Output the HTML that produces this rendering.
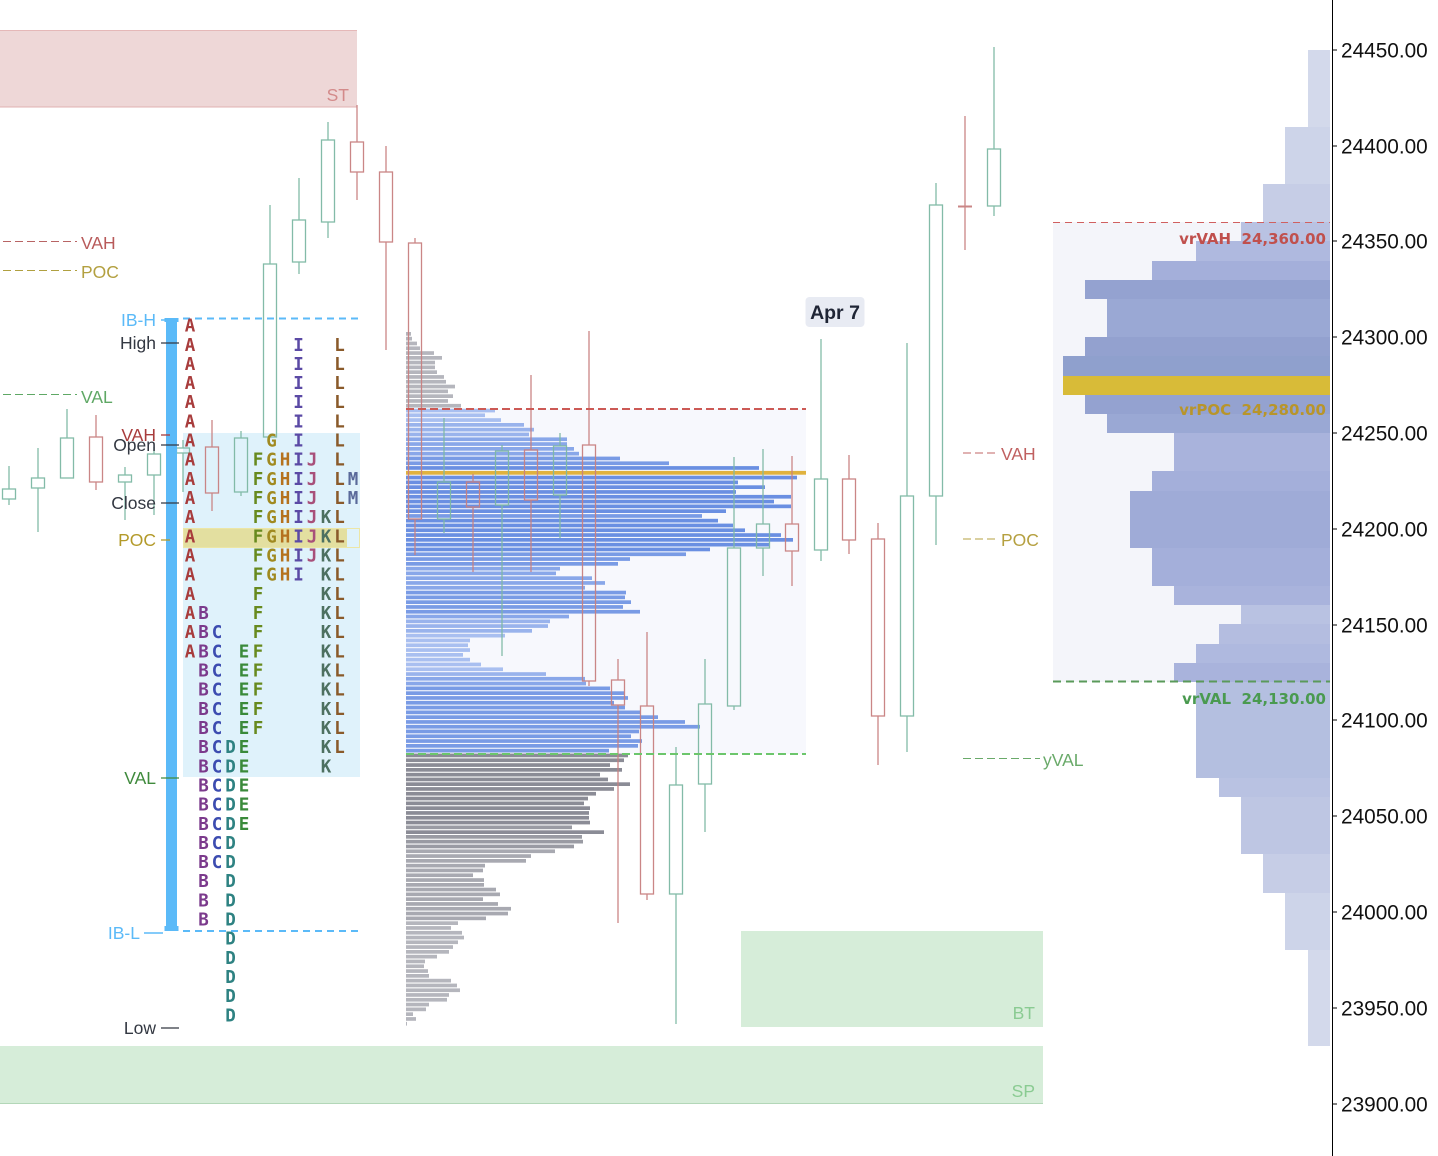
<!DOCTYPE html>
<html><head><meta charset="utf-8"><style>
html,body{margin:0;padding:0;background:#fff;}
svg{display:block;}
.lb{font-family:"Liberation Sans",sans-serif;font-size:17.5px;}
.ax{font-family:"Liberation Sans",sans-serif;font-size:20.8px;fill:#111;}
.tp{font-family:"DejaVu Sans Mono","Liberation Mono",monospace;font-weight:bold;font-size:17.5px;text-anchor:middle;}
.vr{font-family:"DejaVu Sans","Liberation Sans",sans-serif;font-weight:bold;font-size:15px;text-anchor:end;}
.g1{fill:#b5b6bd}.g2{fill:#a8a9b1}.g3{fill:#9a9ba3}.g4{fill:#8b8c96}
.b1{fill:#a9bff0}.b2{fill:#99b3ec}.b3{fill:#89a7e9}.b4{fill:#799be5}.b5{fill:#6a8fe2}
.cg{stroke:#7db8a4;fill:none;stroke-width:1.3}
.cr{stroke:#c88080;fill:none;stroke-width:1.3}
</style></head><body>
<svg width="1438" height="1156" viewBox="0 0 1438 1156" xmlns="http://www.w3.org/2000/svg">
<rect width="1438" height="1156" fill="#fff"/>

<!-- ST box -->
<rect x="0" y="30" width="357" height="77" fill="#eed7d7"/>
<line x1="0" y1="30.5" x2="357" y2="30.5" stroke="#e5b8b8" stroke-width="1"/>
<line x1="0" y1="107" x2="357" y2="107" stroke="#e0b0b0" stroke-width="1"/>
<text class="lb" x="349" y="101" text-anchor="end" fill="#d38a8a">ST</text>

<!-- BT / SP boxes -->
<rect x="741" y="931" width="302" height="96" fill="#d6edd9"/>
<text class="lb" x="1035" y="1019" text-anchor="end" fill="#8acb92">BT</text>
<rect x="0" y="1046" width="1043" height="57" fill="#d6edd9"/>
<line x1="0" y1="1103.5" x2="1043" y2="1103.5" stroke="#b3d7b8" stroke-width="1"/>
<text class="lb" x="1035" y="1097" text-anchor="end" fill="#8acb92">SP</text>

<!-- left prior levels -->
<line x1="3" y1="241.5" x2="77" y2="241.5" stroke="#b86464" stroke-width="1" stroke-dasharray="8,4"/>
<text class="lb" x="81" y="249" fill="#b85a5a">VAH</text>
<line x1="3" y1="270.5" x2="77" y2="270.5" stroke="#b0a040" stroke-width="1" stroke-dasharray="8,4"/>
<text class="lb" x="81" y="278" fill="#b3a040">POC</text>
<line x1="3" y1="394.5" x2="77" y2="394.5" stroke="#5fa865" stroke-width="1" stroke-dasharray="8,4"/>
<text class="lb" x="81" y="403" fill="#5fa865">VAL</text>

<!-- TPO value area bg -->
<rect x="183" y="433" width="177" height="344" fill="#dff2fb"/>
<rect x="183" y="528" width="164" height="20" fill="#e3dfa0"/>
<rect x="183.5" y="528.5" width="176" height="19" fill="none" stroke="#ece6a6" stroke-width="1"/>

<!-- middle profile VA bg -->
<rect x="406" y="409" width="400" height="345" fill="#f7f8fd"/>

<!-- middle volume profile bars -->
<g>
<rect class="g1" x="406" y="332.0" width="5" height="3.7"/>
<rect class="g1" x="406" y="336.8" width="6" height="3.7"/>
<rect class="g1" x="406" y="341.6" width="11" height="3.7"/>
<rect class="g1" x="406" y="346.4" width="14" height="3.7"/>
<rect class="g1" x="406" y="351.2" width="28" height="3.7"/>
<rect class="g1" x="406" y="356.0" width="36" height="3.7"/>
<rect class="g1" x="406" y="360.7" width="29" height="3.7"/>
<rect class="g1" x="406" y="365.5" width="29" height="3.7"/>
<rect class="g1" x="406" y="370.3" width="31" height="3.7"/>
<rect class="g1" x="406" y="375.1" width="38" height="3.7"/>
<rect class="g1" x="406" y="379.9" width="40" height="3.7"/>
<rect class="g1" x="406" y="384.7" width="49" height="3.7"/>
<rect class="g1" x="406" y="389.5" width="42" height="3.7"/>
<rect class="g1" x="406" y="394.3" width="47" height="3.7"/>
<rect class="g1" x="406" y="399.1" width="42" height="3.7"/>
<rect class="g1" x="406" y="403.9" width="55" height="3.7"/>
<rect class="b1" x="406" y="408.7" width="89" height="3.7"/>
<rect class="b1" x="406" y="413.4" width="79" height="3.7"/>
<rect class="b1" x="406" y="418.2" width="95" height="3.7"/>
<rect class="b2" x="406" y="423.0" width="118" height="3.7"/>
<rect class="b2" x="406" y="427.8" width="128" height="3.7"/>
<rect class="b2" x="406" y="432.6" width="123" height="3.7"/>
<rect class="b3" x="406" y="437.4" width="161" height="3.7"/>
<rect class="b3" x="406" y="442.2" width="161" height="3.7"/>
<rect class="b3" x="406" y="447.0" width="168" height="3.7"/>
<rect class="b3" x="406" y="451.8" width="173" height="3.7"/>
<rect class="b4" x="406" y="456.6" width="214" height="3.7"/>
<rect class="b4" x="406" y="461.4" width="263" height="3.7"/>
<rect class="b5" x="406" y="466.1" width="353" height="3.7"/>
<rect fill="#e0b23e" x="406" y="470.9" width="400" height="3.8"/>
<rect class="b5" x="406" y="475.7" width="391" height="3.7"/>
<rect class="b5" x="406" y="480.5" width="332" height="3.7"/>
<rect class="b5" x="406" y="485.3" width="359" height="3.7"/>
<rect class="b5" x="406" y="490.1" width="330" height="3.7"/>
<rect class="b5" x="406" y="494.9" width="385" height="3.7"/>
<rect class="b5" x="406" y="499.7" width="368" height="3.7"/>
<rect class="b5" x="406" y="504.5" width="385" height="3.7"/>
<rect class="b5" x="406" y="509.3" width="320" height="3.7"/>
<rect class="b4" x="406" y="514.1" width="296" height="3.7"/>
<rect class="b5" x="406" y="518.8" width="312" height="3.7"/>
<rect class="b5" x="406" y="523.6" width="327" height="3.7"/>
<rect class="b5" x="406" y="528.4" width="339" height="3.7"/>
<rect class="b5" x="406" y="533.2" width="375" height="3.7"/>
<rect class="b5" x="406" y="538.0" width="387" height="3.7"/>
<rect class="b5" x="406" y="542.8" width="363" height="3.7"/>
<rect class="b5" x="406" y="547.6" width="304" height="3.7"/>
<rect class="b4" x="406" y="552.4" width="280" height="3.7"/>
<rect class="b4" x="406" y="557.2" width="224" height="3.7"/>
<rect class="b4" x="406" y="562.0" width="212" height="3.7"/>
<rect class="b3" x="406" y="566.8" width="154" height="3.7"/>
<rect class="b3" x="406" y="571.5" width="150" height="3.7"/>
<rect class="b3" x="406" y="576.3" width="186" height="3.7"/>
<rect class="b3" x="406" y="581.1" width="199" height="3.7"/>
<rect class="b3" x="406" y="585.9" width="179" height="3.7"/>
<rect class="b4" x="406" y="590.7" width="220" height="3.7"/>
<rect class="b4" x="406" y="595.5" width="219" height="3.7"/>
<rect class="b4" x="406" y="600.3" width="225" height="3.7"/>
<rect class="b4" x="406" y="605.1" width="217" height="3.7"/>
<rect class="b4" x="406" y="609.9" width="234" height="3.7"/>
<rect class="b3" x="406" y="614.7" width="163" height="3.7"/>
<rect class="b2" x="406" y="619.5" width="144" height="3.7"/>
<rect class="b2" x="406" y="624.2" width="142" height="3.7"/>
<rect class="b2" x="406" y="629.0" width="126" height="3.7"/>
<rect class="b1" x="406" y="633.8" width="99" height="3.7"/>
<rect class="b1" x="406" y="638.6" width="64" height="3.7"/>
<rect class="b1" x="406" y="643.4" width="62" height="3.7"/>
<rect class="b1" x="406" y="648.2" width="64" height="3.7"/>
<rect class="b1" x="406" y="653.0" width="57" height="3.7"/>
<rect class="b1" x="406" y="657.8" width="64" height="3.7"/>
<rect class="b1" x="406" y="662.6" width="75" height="3.7"/>
<rect class="b1" x="406" y="667.4" width="97" height="3.7"/>
<rect class="b2" x="406" y="672.2" width="140" height="3.7"/>
<rect class="b3" x="406" y="676.9" width="179" height="3.7"/>
<rect class="b3" x="406" y="681.7" width="180" height="3.7"/>
<rect class="b4" x="406" y="686.5" width="204" height="3.7"/>
<rect class="b4" x="406" y="691.3" width="218" height="3.7"/>
<rect class="b4" x="406" y="696.1" width="222" height="3.7"/>
<rect class="b4" x="406" y="700.9" width="208" height="3.7"/>
<rect class="b4" x="406" y="705.7" width="219" height="3.7"/>
<rect class="b4" x="406" y="710.5" width="234" height="3.7"/>
<rect class="b4" x="406" y="715.3" width="252" height="3.7"/>
<rect class="b4" x="406" y="720.1" width="279" height="3.7"/>
<rect class="b4" x="406" y="724.9" width="294" height="3.7"/>
<rect class="b4" x="406" y="729.6" width="233" height="3.7"/>
<rect class="b4" x="406" y="734.4" width="225" height="3.7"/>
<rect class="b4" x="406" y="739.2" width="236" height="3.7"/>
<rect class="b4" x="406" y="744.0" width="232" height="3.7"/>
<rect class="b4" x="406" y="748.8" width="203" height="3.7"/>
<rect class="g4" x="406" y="753.6" width="222" height="3.7"/>
<rect class="g4" x="406" y="758.4" width="218" height="3.7"/>
<rect class="g4" x="406" y="763.2" width="204" height="3.7"/>
<rect class="g4" x="406" y="768.0" width="216" height="3.7"/>
<rect class="g4" x="406" y="772.8" width="194" height="3.7"/>
<rect class="g4" x="406" y="777.6" width="202" height="3.7"/>
<rect class="g4" x="406" y="782.3" width="224" height="3.7"/>
<rect class="g4" x="406" y="787.1" width="208" height="3.7"/>
<rect class="g4" x="406" y="791.9" width="190" height="3.7"/>
<rect class="g4" x="406" y="796.7" width="182" height="3.7"/>
<rect class="g4" x="406" y="801.5" width="178" height="3.7"/>
<rect class="g4" x="406" y="806.3" width="184" height="3.7"/>
<rect class="g4" x="406" y="811.1" width="183" height="3.7"/>
<rect class="g4" x="406" y="815.9" width="183" height="3.7"/>
<rect class="g4" x="406" y="820.7" width="184" height="3.7"/>
<rect class="g3" x="406" y="825.5" width="166" height="3.7"/>
<rect class="g4" x="406" y="830.3" width="198" height="3.7"/>
<rect class="g3" x="406" y="835.0" width="176" height="3.7"/>
<rect class="g3" x="406" y="839.8" width="177" height="3.7"/>
<rect class="g3" x="406" y="844.6" width="168" height="3.7"/>
<rect class="g2" x="406" y="849.4" width="149" height="3.7"/>
<rect class="g2" x="406" y="854.2" width="125" height="3.7"/>
<rect class="g2" x="406" y="859.0" width="120" height="3.7"/>
<rect class="g2" x="406" y="863.8" width="79" height="3.7"/>
<rect class="g2" x="406" y="868.6" width="77" height="3.7"/>
<rect class="g2" x="406" y="873.4" width="67" height="3.7"/>
<rect class="g2" x="406" y="878.2" width="78" height="3.7"/>
<rect class="g2" x="406" y="883.0" width="78" height="3.7"/>
<rect class="g2" x="406" y="887.7" width="90" height="3.7"/>
<rect class="g2" x="406" y="892.5" width="94" height="3.7"/>
<rect class="g2" x="406" y="897.3" width="77" height="3.7"/>
<rect class="g2" x="406" y="902.1" width="92" height="3.7"/>
<rect class="g2" x="406" y="906.9" width="105" height="3.7"/>
<rect class="g2" x="406" y="911.7" width="102" height="3.7"/>
<rect class="g2" x="406" y="916.5" width="80" height="3.7"/>
<rect class="g1" x="406" y="921.3" width="52" height="3.7"/>
<rect class="g1" x="406" y="926.1" width="45" height="3.7"/>
<rect class="g1" x="406" y="930.9" width="56" height="3.7"/>
<rect class="g1" x="406" y="935.7" width="58" height="3.7"/>
<rect class="g1" x="406" y="940.4" width="52" height="3.7"/>
<rect class="g1" x="406" y="945.2" width="47" height="3.7"/>
<rect class="g1" x="406" y="950.0" width="43" height="3.7"/>
<rect class="g1" x="406" y="954.8" width="31" height="3.7"/>
<rect class="g1" x="406" y="959.6" width="19" height="3.7"/>
<rect class="g1" x="406" y="964.4" width="18" height="3.7"/>
<rect class="g1" x="406" y="969.2" width="22" height="3.7"/>
<rect class="g1" x="406" y="974.0" width="23" height="3.7"/>
<rect class="g1" x="406" y="978.8" width="45" height="3.7"/>
<rect class="g1" x="406" y="983.6" width="51" height="3.7"/>
<rect class="g1" x="406" y="988.4" width="54" height="3.7"/>
<rect class="g1" x="406" y="993.1" width="43" height="3.7"/>
<rect class="g1" x="406" y="997.9" width="41" height="3.7"/>
<rect class="g1" x="406" y="1002.7" width="23" height="3.7"/>
<rect class="g1" x="406" y="1007.5" width="20" height="3.7"/>
<rect class="g1" x="406" y="1012.3" width="7" height="3.7"/>
<rect class="g1" x="406" y="1017.1" width="10" height="3.7"/>
<rect class="g1" x="406" y="1021.9" width="1" height="3.7"/>
</g>

<!-- candles -->
<g opacity="0.95">
<g class="cg"><line x1="9" y1="466" x2="9" y2="489"/><rect x="2.5" y="489" width="13" height="10"/><line x1="9" y1="499" x2="9" y2="505"/></g>
<g class="cg"><line x1="38" y1="448" x2="38" y2="478"/><rect x="31.5" y="478" width="13" height="10"/><line x1="38" y1="488" x2="38" y2="532"/></g>
<g class="cg"><line x1="67" y1="409" x2="67" y2="438"/><rect x="60.5" y="438" width="13" height="40"/></g>
<g class="cr"><line x1="96" y1="415" x2="96" y2="437"/><rect x="89.5" y="437" width="13" height="45"/><line x1="96" y1="482" x2="96" y2="490"/></g>
<g class="cg"><line x1="125" y1="467" x2="125" y2="475"/><rect x="118.5" y="475" width="13" height="7"/><line x1="125" y1="482" x2="125" y2="520"/></g>
<g class="cg"><line x1="154" y1="447" x2="154" y2="454"/><rect x="147.5" y="454" width="13" height="21"/><line x1="154" y1="475" x2="154" y2="515"/></g>
<g class="cg"><line x1="183" y1="440" x2="183" y2="448"/><rect x="176.5" y="448" width="13" height="5"/><line x1="183" y1="453" x2="183" y2="492"/></g>
<g class="cr"><line x1="212" y1="420" x2="212" y2="447"/><rect x="205.5" y="447" width="13" height="46"/><line x1="212" y1="493" x2="212" y2="511"/></g>
<g class="cg"><line x1="241" y1="431" x2="241" y2="438"/><rect x="234.5" y="438" width="13" height="54"/><line x1="241" y1="492" x2="241" y2="496"/></g>
<g class="cg"><line x1="270" y1="205" x2="270" y2="264"/><rect x="263.5" y="264" width="13" height="173"/></g>
<g class="cg"><line x1="299" y1="178" x2="299" y2="220"/><rect x="292.5" y="220" width="13" height="42"/><line x1="299" y1="262" x2="299" y2="274"/></g>
<g class="cg"><line x1="328" y1="122" x2="328" y2="140"/><rect x="321.5" y="140" width="13" height="82"/><line x1="328" y1="222" x2="328" y2="238"/></g>
<g class="cr"><line x1="357" y1="105" x2="357" y2="142"/><rect x="350.5" y="142" width="13" height="30"/><line x1="357" y1="172" x2="357" y2="200"/></g>
<g class="cr"><line x1="386" y1="146" x2="386" y2="172"/><rect x="379.5" y="172" width="13" height="70"/><line x1="386" y1="242" x2="386" y2="350"/></g>
<g class="cr"><line x1="415" y1="238" x2="415" y2="243"/><rect x="408.5" y="243" width="13" height="276"/><line x1="415" y1="519" x2="415" y2="555"/></g>
<g class="cg"><line x1="444" y1="418" x2="444" y2="482"/><rect x="437.5" y="482" width="13" height="37"/><line x1="444" y1="519" x2="444" y2="533"/></g>
<g class="cr"><line x1="473" y1="474" x2="473" y2="482"/><rect x="466.5" y="482" width="13" height="25"/><line x1="473" y1="507" x2="473" y2="572"/></g>
<g class="cg"><line x1="502" y1="445" x2="502" y2="451"/><rect x="495.5" y="451" width="13" height="54"/><line x1="502" y1="505" x2="502" y2="656"/></g>
<g class="cr"><line x1="531" y1="375" x2="531" y2="450"/><rect x="524.5" y="450" width="13" height="50"/><line x1="531" y1="500" x2="531" y2="572"/></g>
<g class="cg"><line x1="560" y1="433" x2="560" y2="446"/><rect x="553.5" y="446" width="13" height="49"/><line x1="560" y1="495" x2="560" y2="538"/></g>
<g class="cr"><line x1="589" y1="331" x2="589" y2="445"/><rect x="582.5" y="445" width="13" height="236"/><line x1="589" y1="681" x2="589" y2="686"/></g>
<g class="cr"><line x1="618" y1="659" x2="618" y2="680"/><rect x="611.5" y="680" width="13" height="25"/><line x1="618" y1="705" x2="618" y2="923"/></g>
<g class="cr"><line x1="647" y1="632" x2="647" y2="706"/><rect x="640.5" y="706" width="13" height="188"/><line x1="647" y1="894" x2="647" y2="900"/></g>
<g class="cg"><line x1="676" y1="747" x2="676" y2="785"/><rect x="669.5" y="785" width="13" height="109"/><line x1="676" y1="894" x2="676" y2="1024"/></g>
<g class="cg"><line x1="705" y1="659" x2="705" y2="704"/><rect x="698.5" y="704" width="13" height="80"/><line x1="705" y1="784" x2="705" y2="832"/></g>
<g class="cg"><line x1="734" y1="457" x2="734" y2="548"/><rect x="727.5" y="548" width="13" height="158"/><line x1="734" y1="706" x2="734" y2="710"/></g>
<g class="cg"><line x1="763" y1="449" x2="763" y2="524"/><rect x="756.5" y="524" width="13" height="24"/><line x1="763" y1="548" x2="763" y2="576"/></g>
<g class="cr"><line x1="792" y1="456" x2="792" y2="524"/><rect x="785.5" y="524" width="13" height="27"/><line x1="792" y1="551" x2="792" y2="586"/></g>
<g class="cg"><line x1="821" y1="339" x2="821" y2="479"/><rect x="814.5" y="479" width="13" height="71"/><line x1="821" y1="550" x2="821" y2="561"/></g>
<g class="cr"><line x1="849" y1="455" x2="849" y2="479"/><rect x="842.5" y="479" width="13" height="61"/><line x1="849" y1="540" x2="849" y2="554"/></g>
<g class="cr"><line x1="878" y1="523" x2="878" y2="539"/><rect x="871.5" y="539" width="13" height="177"/><line x1="878" y1="716" x2="878" y2="765"/></g>
<g class="cg"><line x1="907" y1="343" x2="907" y2="496"/><rect x="900.5" y="496" width="13" height="220"/><line x1="907" y1="716" x2="907" y2="752"/></g>
<g class="cg"><line x1="936" y1="183" x2="936" y2="205"/><rect x="929.5" y="205" width="13" height="291"/><line x1="936" y1="496" x2="936" y2="545"/></g>
<g class="cr"><line x1="965" y1="116" x2="965" y2="250"/><line x1="958" y1="206.5" x2="972" y2="206.5" stroke-width="2"/></g>
<g class="cg"><line x1="994" y1="47" x2="994" y2="149"/><rect x="987.5" y="149" width="13" height="57"/><line x1="994" y1="206" x2="994" y2="216"/></g>
</g>

<!-- middle profile VAH/VAL lines -->
<line x1="406" y1="409" x2="806" y2="409" stroke="#cc5a55" stroke-width="2" stroke-dasharray="8,4"/>
<line x1="406" y1="754" x2="806" y2="754" stroke="#6cc66c" stroke-width="2" stroke-dasharray="8,4"/>

<!-- IB bar and lines -->
<line x1="183" y1="318.5" x2="358" y2="318.5" stroke="#5bbaf8" stroke-width="2" stroke-dasharray="7,5"/>
<line x1="183" y1="931" x2="358" y2="931" stroke="#5bbaf8" stroke-width="2" stroke-dasharray="7,5"/>
<rect x="166" y="318" width="11" height="612" fill="#5bbaf8"/>
<rect x="164.5" y="318" width="14" height="4" fill="#5bbaf8"/>
<rect x="164.5" y="926" width="14" height="5" fill="#5bbaf8"/>

<!-- left TPO labels -->
<text class="lb" x="156" y="326" text-anchor="end" fill="#5bbaf8">IB-H</text>
<line x1="161" y1="320" x2="168" y2="320" stroke="#5bbaf8" stroke-width="1.5"/>
<text class="lb" x="156" y="349" text-anchor="end" fill="#333842">High</text>
<line x1="161" y1="343" x2="179" y2="343" stroke="#333842" stroke-width="1.3"/>
<text class="lb" x="156" y="441" text-anchor="end" fill="#a83c3c">VAH</text>
<line x1="161" y1="435" x2="170" y2="435" stroke="#a83c3c" stroke-width="1.3"/>
<text class="lb" x="156" y="451" text-anchor="end" fill="#333842">Open</text>
<line x1="161" y1="445" x2="179" y2="445" stroke="#333842" stroke-width="1.3"/>
<text class="lb" x="156" y="509" text-anchor="end" fill="#333842">Close</text>
<line x1="161" y1="503" x2="179" y2="503" stroke="#333842" stroke-width="1.3"/>
<text class="lb" x="156" y="546" text-anchor="end" fill="#b39a2a">POC</text>
<line x1="161" y1="540" x2="170" y2="540" stroke="#b39a2a" stroke-width="1.3"/>
<text class="lb" x="156" y="784" text-anchor="end" fill="#3f8a3c">VAL</text>
<line x1="161" y1="778" x2="179" y2="778" stroke="#3f8a3c" stroke-width="1.3"/>
<text class="lb" x="140" y="939" text-anchor="end" fill="#5bbaf8">IB-L</text>
<line x1="144" y1="933" x2="163" y2="933" stroke="#5bbaf8" stroke-width="1.5"/>
<text class="lb" x="156" y="1034" text-anchor="end" fill="#333842">Low</text>
<line x1="161" y1="1028" x2="179" y2="1028" stroke="#333842" stroke-width="1.3"/>

<!-- TPO letters -->
<text class="tp" fill="#a83c3c" x="190 190 190 190 190 190 190 190 190 190 190 190 190 190 190 190 190 190" y="331.6 350.8 369.9 389.1 408.2 427.4 446.6 465.7 484.9 504.0 523.2 542.4 561.5 580.7 599.8 619.0 638.2 657.3">AAAAAAAAAAAAAAAAAA</text>
<text class="tp" fill="#7b3a8c" x="203.5 203.5 203.5 203.5 203.5 203.5 203.5 203.5 203.5 203.5 203.5 203.5 203.5 203.5 203.5 203.5 203.5" y="619.0 638.2 657.3 676.5 695.6 714.8 734.0 753.1 772.3 791.4 810.6 829.8 848.9 868.1 887.2 906.4 925.6">BBBBBBBBBBBBBBBBB</text>
<text class="tp" fill="#3c4cb0" x="217 217 217 217 217 217 217 217 217 217 217 217 217" y="638.2 657.3 676.5 695.6 714.8 734.0 753.1 772.3 791.4 810.6 829.8 848.9 868.1">CCCCCCCCCCCCC</text>
<text class="tp" fill="#2e8282" x="230.5 230.5 230.5 230.5 230.5 230.5 230.5 230.5 230.5 230.5 230.5 230.5 230.5 230.5 230.5" y="753.1 772.3 791.4 810.6 829.8 848.9 868.1 887.2 906.4 925.6 944.7 963.9 983.0 1002.2 1021.4">DDDDDDDDDDDDDDD</text>
<text class="tp" fill="#3a8a3a" x="244 244 244 244 244 244 244 244 244 244" y="657.3 676.5 695.6 714.8 734.0 753.1 772.3 791.4 810.6 829.8">EEEEEEEEEE</text>
<text class="tp" fill="#678a1e" x="258 258 258 258 258 258 258 258 258 258 258 258 258 258 258" y="465.7 484.9 504.0 523.2 542.4 561.5 580.7 599.8 619.0 638.2 657.3 676.5 695.6 714.8 734.0">FFFFFFFFFFFFFFF</text>
<text class="tp" fill="#a08a20" x="271.5 271.5 271.5 271.5 271.5 271.5 271.5 271.5" y="446.6 465.7 484.9 504.0 523.2 542.4 561.5 580.7">GGGGGGGG</text>
<text class="tp" fill="#b5721e" x="285 285 285 285 285 285 285" y="465.7 484.9 504.0 523.2 542.4 561.5 580.7">HHHHHHH</text>
<text class="tp" fill="#5b4aa5" x="298.5 298.5 298.5 298.5 298.5 298.5 298.5 298.5 298.5 298.5 298.5 298.5 298.5" y="350.8 369.9 389.1 408.2 427.4 446.6 465.7 484.9 504.0 523.2 542.4 561.5 580.7">IIIIIIIIIIIII</text>
<text class="tp" fill="#a8507a" x="312 312 312 312 312 312" y="465.7 484.9 504.0 523.2 542.4 561.5">JJJJJJ</text>
<text class="tp" fill="#4d7060" x="326 326 326 326 326 326 326 326 326 326 326 326 326 326" y="523.2 542.4 561.5 580.7 599.8 619.0 638.2 657.3 676.5 695.6 714.8 734.0 753.1 772.3">KKKKKKKKKKKKKK</text>
<text class="tp" fill="#8a5a2a" x="339.5 339.5 339.5 339.5 339.5 339.5 339.5 339.5 339.5 339.5 339.5 339.5 339.5 339.5 339.5 339.5 339.5 339.5 339.5 339.5 339.5 339.5" y="350.8 369.9 389.1 408.2 427.4 446.6 465.7 484.9 504.0 523.2 542.4 561.5 580.7 599.8 619.0 638.2 657.3 676.5 695.6 714.8 734.0 753.1">LLLLLLLLLLLLLLLLLLLLLL</text>
<text class="tp" fill="#5a6a9a" x="353 353" y="484.9 504.0">MM</text>

<!-- Apr 7 -->
<rect x="805.5" y="297" width="59" height="30" rx="4" fill="#e8ebf3"/>
<text x="835" y="319" text-anchor="middle" font-family="Liberation Sans, sans-serif" font-weight="bold" font-size="19.5" fill="#1f2535">Apr 7</text>

<!-- right prior labels -->
<line x1="963" y1="453" x2="995" y2="453" stroke="#c06565" stroke-width="1" stroke-dasharray="8,4"/>
<text class="lb" x="1001" y="460" fill="#c06060">VAH</text>
<line x1="963" y1="539" x2="995" y2="539" stroke="#b5a040" stroke-width="1" stroke-dasharray="8,4"/>
<text class="lb" x="1001" y="546" fill="#b5a040">POC</text>
<line x1="963" y1="758.5" x2="1040" y2="758.5" stroke="#6aaa6a" stroke-width="1" stroke-dasharray="8,4"/>
<text class="lb" x="1043" y="766" fill="#6aaa6a">yVAL</text>

<!-- right volume profile -->
<rect x="1053" y="222" width="277" height="460" fill="#f4f5fa"/>
<g>
<rect x="1308" y="50" width="22" height="77" fill="#d3d9eb"/>
<rect x="1285" y="127" width="45" height="57" fill="#cdd4e9"/>
<rect x="1263" y="184" width="67" height="38" fill="#c6cde6"/>
<rect x="1241" y="222" width="89" height="19" fill="#b9c2e2"/>
<rect x="1196" y="241" width="134" height="20" fill="#afb9df"/>
<rect x="1152" y="261" width="178" height="19" fill="#a4afda"/>
<rect x="1085" y="280" width="245" height="19" fill="#94a2d0"/>
<rect x="1107" y="299" width="223" height="38" fill="#9aa8d4"/>
<rect x="1085" y="337" width="245" height="19" fill="#93a1cf"/>
<rect x="1063" y="356" width="267" height="20" fill="#8fa0cd"/>
<rect x="1063" y="376" width="267" height="19" fill="#d8bb38"/>
<rect x="1085" y="395" width="245" height="19" fill="#94a2d0"/>
<rect x="1107" y="414" width="223" height="19" fill="#9aa8d4"/>
<rect x="1174" y="433" width="156" height="38" fill="#a9b3dc"/>
<rect x="1152" y="471" width="178" height="20" fill="#a4afda"/>
<rect x="1130" y="491" width="200" height="57" fill="#9fabd7"/>
<rect x="1152" y="548" width="178" height="38" fill="#a4afda"/>
<rect x="1174" y="586" width="156" height="19" fill="#a9b3dc"/>
<rect x="1241" y="605" width="89" height="19" fill="#b9c2e2"/>
<rect x="1219" y="624" width="111" height="20" fill="#b4bde0"/>
<rect x="1196" y="644" width="134" height="19" fill="#afb9df"/>
<rect x="1174" y="663" width="156" height="19" fill="#a9b3dc"/>
<rect x="1196" y="682" width="134" height="96" fill="#b4bfe0"/>
<rect x="1219" y="778" width="111" height="19" fill="#b9c2e2"/>
<rect x="1241" y="797" width="89" height="57" fill="#bec6e3"/>
<rect x="1263" y="854" width="67" height="39" fill="#c6cde6"/>
<rect x="1285" y="893" width="45" height="57" fill="#cdd4e9"/>
<rect x="1308" y="950" width="22" height="96" fill="#d3d9eb"/>
</g>
<line x1="1053" y1="222.5" x2="1330" y2="222.5" stroke="#d06060" stroke-width="1" stroke-dasharray="7,5"/>
<line x1="1053" y1="681.5" x2="1330" y2="681.5" stroke="#5a9a5a" stroke-width="2" stroke-dasharray="8,5"/>
<text class="vr" x="1326" y="244" fill="#c0504d">vrVAH&#160;&#160;24,360.00</text>
<text class="vr" x="1326" y="415" fill="#b8952a">vrPOC&#160;&#160;24,280.00</text>
<text class="vr" x="1326" y="704" fill="#4a9a50">vrVAL&#160;&#160;24,130.00</text>

<!-- price axis -->
<line x1="1332.5" y1="0" x2="1332.5" y2="1156" stroke="#000" stroke-width="1"/>
<g stroke="#000" stroke-width="1">
<line x1="1332" y1="50" x2="1337" y2="50"/>
<line x1="1332" y1="146" x2="1337" y2="146"/>
<line x1="1332" y1="241" x2="1337" y2="241"/>
<line x1="1332" y1="337" x2="1337" y2="337"/>
<line x1="1332" y1="433" x2="1337" y2="433"/>
<line x1="1332" y1="529" x2="1337" y2="529"/>
<line x1="1332" y1="625" x2="1337" y2="625"/>
<line x1="1332" y1="720" x2="1337" y2="720"/>
<line x1="1332" y1="816" x2="1337" y2="816"/>
<line x1="1332" y1="912" x2="1337" y2="912"/>
<line x1="1332" y1="1008" x2="1337" y2="1008"/>
<line x1="1332" y1="1104" x2="1337" y2="1104"/>
</g>
<text class="ax" x="1341" y="57.5">24450.00</text>
<text class="ax" x="1341" y="153.5">24400.00</text>
<text class="ax" x="1341" y="248.5">24350.00</text>
<text class="ax" x="1341" y="344.5">24300.00</text>
<text class="ax" x="1341" y="440.5">24250.00</text>
<text class="ax" x="1341" y="536.5">24200.00</text>
<text class="ax" x="1341" y="632.5">24150.00</text>
<text class="ax" x="1341" y="727.5">24100.00</text>
<text class="ax" x="1341" y="823.5">24050.00</text>
<text class="ax" x="1341" y="919.5">24000.00</text>
<text class="ax" x="1341" y="1015.5">23950.00</text>
<text class="ax" x="1341" y="1111.5">23900.00</text>
</svg>
</body></html>
